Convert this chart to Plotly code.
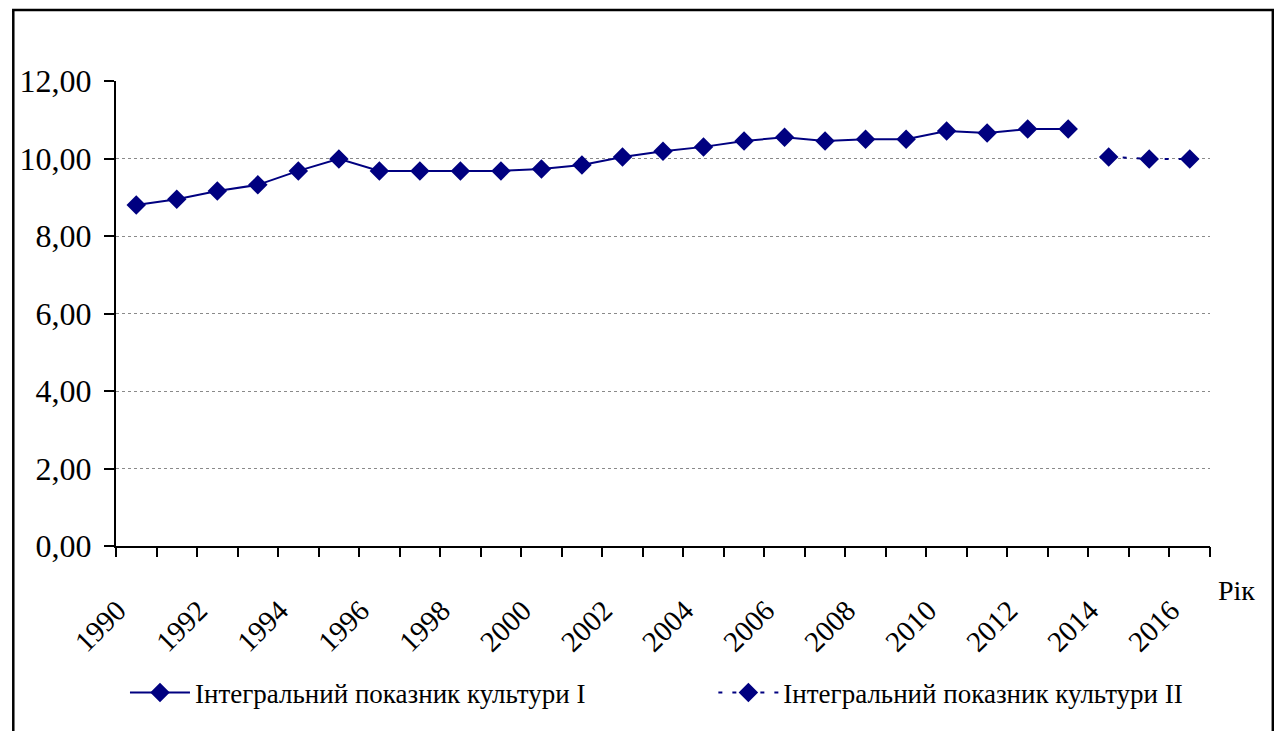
import plotly.graph_objects as go

years = list(range(1990, 2017))
values_I = [8.80, 8.95, 9.16, 9.32, 9.68, 9.99, 9.68, 9.68, 9.68, 9.68, 9.73, 9.83,
            10.04, 10.19, 10.30, 10.45, 10.55, 10.45, 10.50, 10.50, 10.71, 10.66, 10.76, 10.76]
years_I = years[:len(values_I)]
years_II = [2014, 2015, 2016]
values_II = [10.04, 9.99, 9.99]
label_years = list(range(1990, 2017, 2))
name_I = "Інтегральний показник культури І"
name_II = "Інтегральний показник культури ІІ"
y_ticks = [0, 2, 4, 6, 8, 10, 12]

OFF = 8  # page body margin
W, H = 1282 - OFF, 731 - OFF
L, R, T, B = 113 - OFF, 72, 81 - OFF, 185
pw, ph = W - L - R, H - T - B

def px_x(p):
    return (p - OFF - L) / pw

def px_y(p):
    return (H - B - (p - OFF)) / ph

navy = "#000080"
font = "Liberation Serif"

fig = go.Figure()
fig.add_trace(go.Scatter(
    x=years_I, y=values_I, name=name_I, mode="lines+markers",
    line=dict(color=navy, width=2),
    marker=dict(symbol="diamond", size=15, color=navy),
    legend="legend"))
fig.add_trace(go.Scatter(
    x=years_II, y=values_II, name=name_II, mode="lines+markers",
    line=dict(color=navy, width=2, dash="4px,10px"),
    marker=dict(symbol="diamond", size=15, color=navy),
    legend="legend2"))
# invisible trace to activate the tick-mark axis
fig.add_trace(go.Scatter(x=[years[0]], y=[0], xaxis="x2", mode="markers",
                         marker=dict(opacity=0), showlegend=False, hoverinfo="skip"))

xr = [years[0] - 0.5, years[-1] + 0.5]
fig.update_layout(
    width=W, height=H,
    margin=dict(l=L, r=R, t=T, b=B),
    paper_bgcolor="white", plot_bgcolor="white",
    separators=",.",
    font=dict(family=font, color="black"),
    xaxis=dict(range=xr, tickvals=[y - 0.46 for y in label_years],
               ticktext=[str(y) for y in label_years], tickangle=-45,
               ticks="", showgrid=False, zeroline=False, showline=True,
               linecolor="black", linewidth=2, ticklabelstandoff=34,
               tickfont=dict(size=29, family=font)),
    xaxis2=dict(range=xr, overlaying="x", side="bottom", anchor="y",
                tickvals=[y - 0.5 for y in years] + [years[-1] + 0.5],
                showticklabels=False, ticks="outside", ticklen=10, tickwidth=2,
                tickcolor="black", showgrid=False, zeroline=False, showline=False),
    yaxis=dict(range=[0, 12], tickvals=y_ticks, tickformat=".2f",
               ticks="outside", ticklen=10, tickwidth=2, tickcolor="black",
               showline=True, linecolor="black", linewidth=2,
               showgrid=True, gridcolor="#8a8a8a", gridwidth=1, griddash="dot",
               zeroline=False, ticklabelstandoff=6,
               tickfont=dict(size=32, family=font)),
    legend=dict(orientation="h", x=px_x(122), y=px_y(693), xanchor="left", yanchor="middle",
                font=dict(size=27, family=font), bgcolor="rgba(0,0,0,0)", itemwidth=60),
    legend2=dict(orientation="h", x=px_x(712), y=px_y(693), xanchor="left", yanchor="middle",
                 font=dict(size=27, family=font), bgcolor="rgba(0,0,0,0)", itemwidth=60),
    showlegend=True,
    annotations=[dict(text="Рік", xref="paper", yref="paper", x=px_x(1216), y=px_y(590),
                      xanchor="left", yanchor="middle", showarrow=False,
                      font=dict(size=28, family=font, color="black"))],
    shapes=[dict(type="rect", xref="paper", yref="paper",
                 x0=px_x(10), x1=px_x(1273), y0=px_y(760), y1=px_y(10),
                 line=dict(color="black", width=2.5), fillcolor="rgba(0,0,0,0)", layer="above")],
)

fig.write_html("out.html")
